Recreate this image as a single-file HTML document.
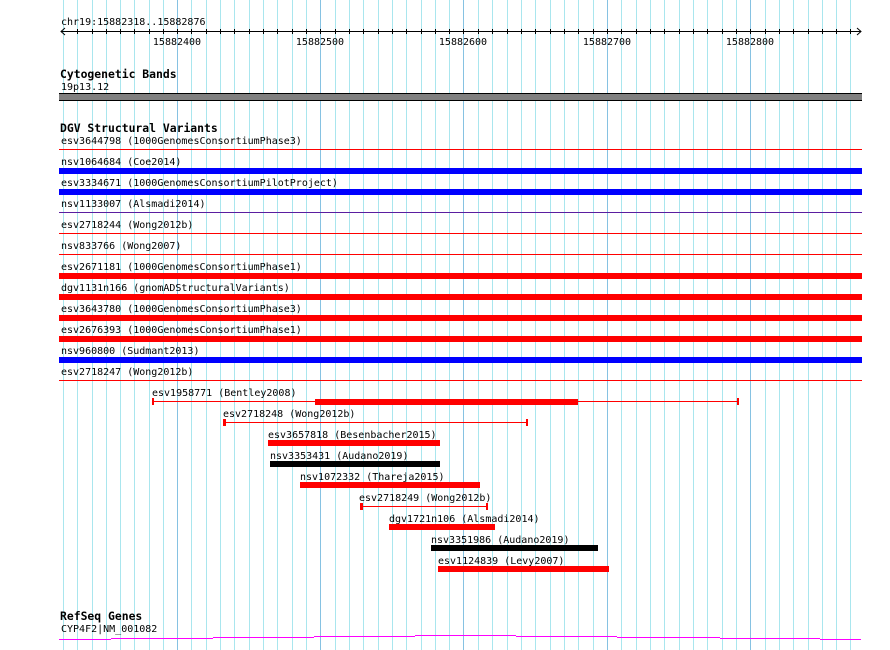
<!DOCTYPE html>
<html><head><meta charset="utf-8"><style>
html,body{margin:0;padding:0;background:#fff;}
svg{display:block;}
text{font-family:"DejaVu Sans Mono","Liberation Mono",monospace;font-size:10px;fill:#000;}
.b{font-family:"DejaVu Sans Mono","Liberation Mono",monospace;font-weight:bold;font-size:11.4px;}
</style></head><body>
<svg width="890" height="650" viewBox="0 0 890 650" xmlns="http://www.w3.org/2000/svg" shape-rendering="crispEdges">
<rect width="890" height="650" fill="#fff"/>
<g id="grid" stroke="#a9e6ee" stroke-width="1">
<line x1="63.5" y1="0" x2="63.5" y2="650"/><line x1="77.5" y1="0" x2="77.5" y2="650"/><line x1="92.5" y1="0" x2="92.5" y2="650"/><line x1="106.5" y1="0" x2="106.5" y2="650"/><line x1="120.5" y1="0" x2="120.5" y2="650"/><line x1="134.5" y1="0" x2="134.5" y2="650"/><line x1="149.5" y1="0" x2="149.5" y2="650"/><line x1="163.5" y1="0" x2="163.5" y2="650"/>
<line x1="191.5" y1="0" x2="191.5" y2="650"/><line x1="206.5" y1="0" x2="206.5" y2="650"/><line x1="220.5" y1="0" x2="220.5" y2="650"/><line x1="234.5" y1="0" x2="234.5" y2="650"/><line x1="249.5" y1="0" x2="249.5" y2="650"/><line x1="263.5" y1="0" x2="263.5" y2="650"/><line x1="277.5" y1="0" x2="277.5" y2="650"/><line x1="292.5" y1="0" x2="292.5" y2="650"/><line x1="306.5" y1="0" x2="306.5" y2="650"/>
<line x1="335.5" y1="0" x2="335.5" y2="650"/><line x1="349.5" y1="0" x2="349.5" y2="650"/><line x1="363.5" y1="0" x2="363.5" y2="650"/><line x1="378.5" y1="0" x2="378.5" y2="650"/><line x1="392.5" y1="0" x2="392.5" y2="650"/><line x1="406.5" y1="0" x2="406.5" y2="650"/><line x1="421.5" y1="0" x2="421.5" y2="650"/><line x1="435.5" y1="0" x2="435.5" y2="650"/><line x1="449.5" y1="0" x2="449.5" y2="650"/>
<line x1="478.5" y1="0" x2="478.5" y2="650"/><line x1="492.5" y1="0" x2="492.5" y2="650"/><line x1="507.5" y1="0" x2="507.5" y2="650"/><line x1="521.5" y1="0" x2="521.5" y2="650"/><line x1="535.5" y1="0" x2="535.5" y2="650"/><line x1="550.5" y1="0" x2="550.5" y2="650"/><line x1="564.5" y1="0" x2="564.5" y2="650"/><line x1="578.5" y1="0" x2="578.5" y2="650"/><line x1="593.5" y1="0" x2="593.5" y2="650"/>
<line x1="621.5" y1="0" x2="621.5" y2="650"/><line x1="636.5" y1="0" x2="636.5" y2="650"/><line x1="650.5" y1="0" x2="650.5" y2="650"/><line x1="664.5" y1="0" x2="664.5" y2="650"/><line x1="679.5" y1="0" x2="679.5" y2="650"/><line x1="693.5" y1="0" x2="693.5" y2="650"/><line x1="707.5" y1="0" x2="707.5" y2="650"/><line x1="722.5" y1="0" x2="722.5" y2="650"/><line x1="736.5" y1="0" x2="736.5" y2="650"/>
<line x1="765.5" y1="0" x2="765.5" y2="650"/><line x1="779.5" y1="0" x2="779.5" y2="650"/><line x1="793.5" y1="0" x2="793.5" y2="650"/><line x1="808.5" y1="0" x2="808.5" y2="650"/><line x1="822.5" y1="0" x2="822.5" y2="650"/><line x1="836.5" y1="0" x2="836.5" y2="650"/><line x1="850.5" y1="0" x2="850.5" y2="650"/>
</g>
<g stroke="#86c2e2">
<line x1="177.5" y1="0" x2="177.5" y2="650"/><line x1="320.5" y1="0" x2="320.5" y2="650"/><line x1="463.5" y1="0" x2="463.5" y2="650"/><line x1="607.5" y1="0" x2="607.5" y2="650"/><line x1="750.5" y1="0" x2="750.5" y2="650"/>
</g>

<!-- ruler -->
<text x="61" y="25">chr19:15882318..15882876</text>
<line x1="61" y1="31.5" x2="861" y2="31.5" stroke="#000"/>
<polyline points="65,28 61,31.5 65,35" fill="none" stroke="#000" shape-rendering="auto"/>
<polyline points="857,28 861,31.5 857,35" fill="none" stroke="#000" shape-rendering="auto"/>
<g stroke="#000">
<line x1="77.5" y1="29" x2="77.5" y2="34"/><line x1="92.5" y1="29" x2="92.5" y2="34"/><line x1="106.5" y1="29" x2="106.5" y2="34"/><line x1="120.5" y1="29" x2="120.5" y2="34"/><line x1="134.5" y1="29" x2="134.5" y2="34"/><line x1="149.5" y1="29" x2="149.5" y2="34"/><line x1="163.5" y1="29" x2="163.5" y2="34"/><line x1="177.5" y1="29" x2="177.5" y2="34"/>
<line x1="191.5" y1="29" x2="191.5" y2="34"/><line x1="206.5" y1="29" x2="206.5" y2="34"/><line x1="220.5" y1="29" x2="220.5" y2="34"/><line x1="234.5" y1="29" x2="234.5" y2="34"/><line x1="249.5" y1="29" x2="249.5" y2="34"/><line x1="263.5" y1="29" x2="263.5" y2="34"/><line x1="277.5" y1="29" x2="277.5" y2="34"/><line x1="292.5" y1="29" x2="292.5" y2="34"/><line x1="306.5" y1="29" x2="306.5" y2="34"/><line x1="320.5" y1="29" x2="320.5" y2="34"/>
<line x1="335.5" y1="29" x2="335.5" y2="34"/><line x1="349.5" y1="29" x2="349.5" y2="34"/><line x1="363.5" y1="29" x2="363.5" y2="34"/><line x1="378.5" y1="29" x2="378.5" y2="34"/><line x1="392.5" y1="29" x2="392.5" y2="34"/><line x1="406.5" y1="29" x2="406.5" y2="34"/><line x1="421.5" y1="29" x2="421.5" y2="34"/><line x1="435.5" y1="29" x2="435.5" y2="34"/><line x1="449.5" y1="29" x2="449.5" y2="34"/><line x1="463.5" y1="29" x2="463.5" y2="34"/>
<line x1="478.5" y1="29" x2="478.5" y2="34"/><line x1="492.5" y1="29" x2="492.5" y2="34"/><line x1="507.5" y1="29" x2="507.5" y2="34"/><line x1="521.5" y1="29" x2="521.5" y2="34"/><line x1="535.5" y1="29" x2="535.5" y2="34"/><line x1="550.5" y1="29" x2="550.5" y2="34"/><line x1="564.5" y1="29" x2="564.5" y2="34"/><line x1="578.5" y1="29" x2="578.5" y2="34"/><line x1="593.5" y1="29" x2="593.5" y2="34"/><line x1="607.5" y1="29" x2="607.5" y2="34"/>
<line x1="621.5" y1="29" x2="621.5" y2="34"/><line x1="636.5" y1="29" x2="636.5" y2="34"/><line x1="650.5" y1="29" x2="650.5" y2="34"/><line x1="664.5" y1="29" x2="664.5" y2="34"/><line x1="679.5" y1="29" x2="679.5" y2="34"/><line x1="693.5" y1="29" x2="693.5" y2="34"/><line x1="707.5" y1="29" x2="707.5" y2="34"/><line x1="722.5" y1="29" x2="722.5" y2="34"/><line x1="736.5" y1="29" x2="736.5" y2="34"/><line x1="750.5" y1="29" x2="750.5" y2="34"/>
<line x1="765.5" y1="29" x2="765.5" y2="34"/><line x1="779.5" y1="29" x2="779.5" y2="34"/><line x1="793.5" y1="29" x2="793.5" y2="34"/><line x1="808.5" y1="29" x2="808.5" y2="34"/><line x1="822.5" y1="29" x2="822.5" y2="34"/><line x1="836.5" y1="29" x2="836.5" y2="34"/><line x1="850.5" y1="29" x2="850.5" y2="34"/>
</g>
<g text-anchor="middle">
<text x="177" y="45">15882400</text><text x="320" y="45">15882500</text><text x="463" y="45">15882600</text><text x="607" y="45">15882700</text><text x="750" y="45">15882800</text>
</g>

<!-- cytobands -->
<text class="b" x="60" y="78">Cytogenetic Bands</text>
<text x="61" y="90">19p13.12</text>
<rect x="59" y="93" width="803" height="8" fill="#000"/>
<rect x="59" y="94" width="803" height="6" fill="#808080"/>

<!-- DGV -->
<text class="b" x="60" y="132">DGV Structural Variants</text>
<text x="61" y="144">esv3644798 (1000GenomesConsortiumPhase3)</text>
<rect x="59" y="149" width="803" height="1" fill="#f00"/>
<text x="61" y="165">nsv1064684 (Coe2014)</text>
<rect x="59" y="168" width="803" height="6" fill="#00f"/>
<text x="61" y="186">esv3334671 (1000GenomesConsortiumPilotProject)</text>
<rect x="59" y="189" width="803" height="6" fill="#00f"/>
<text x="61" y="207">nsv1133007 (Alsmadi2014)</text>
<rect x="59" y="212" width="803" height="1" fill="#5a1ea0"/>
<text x="61" y="228">esv2718244 (Wong2012b)</text>
<rect x="59" y="233" width="803" height="1" fill="#f00"/>
<text x="61" y="249">nsv833766 (Wong2007)</text>
<rect x="59" y="254" width="803" height="1" fill="#f00"/>
<text x="61" y="270">esv2671181 (1000GenomesConsortiumPhase1)</text>
<rect x="59" y="273" width="803" height="6" fill="#f00"/>
<text x="61" y="291">dgv1131n166 (gnomADStructuralVariants)</text>
<rect x="59" y="294" width="803" height="6" fill="#f00"/>
<text x="61" y="312">esv3643780 (1000GenomesConsortiumPhase3)</text>
<rect x="59" y="315" width="803" height="6" fill="#f00"/>
<text x="61" y="333">esv2676393 (1000GenomesConsortiumPhase1)</text>
<rect x="59" y="336" width="803" height="6" fill="#f00"/>
<text x="61" y="354">nsv960800 (Sudmant2013)</text>
<rect x="59" y="357" width="803" height="6" fill="#00f"/>
<text x="61" y="375">esv2718247 (Wong2012b)</text>
<rect x="59" y="380" width="803" height="1" fill="#f00"/>

<text x="152" y="396">esv1958771 (Bentley2008)</text>
<rect x="152" y="401" width="587" height="1" fill="#f00"/>
<rect x="152" y="398" width="2" height="7" fill="#f00"/>
<rect x="737" y="398" width="2" height="7" fill="#f00"/>
<rect x="315" y="399" width="263" height="6" fill="#f00"/>

<text x="223" y="417">esv2718248 (Wong2012b)</text>
<rect x="223" y="422" width="305" height="1" fill="#f00"/>
<rect x="223" y="419" width="3" height="7" fill="#f00"/>
<rect x="526" y="419" width="2" height="7" fill="#f00"/>

<text x="268" y="438">esv3657818 (Besenbacher2015)</text>
<rect x="268" y="440" width="172" height="6" fill="#f00"/>
<text x="270" y="459">nsv3353431 (Audano2019)</text>
<rect x="270" y="461" width="170" height="6" fill="#000"/>
<text x="300" y="480">nsv1072332 (Thareja2015)</text>
<rect x="300" y="482" width="180" height="6" fill="#f00"/>

<text x="359" y="501">esv2718249 (Wong2012b)</text>
<rect x="360" y="506" width="128" height="1" fill="#f00"/>
<rect x="360" y="503" width="3" height="7" fill="#f00"/>
<rect x="486" y="503" width="2" height="7" fill="#f00"/>

<text x="389" y="522">dgv1721n106 (Alsmadi2014)</text>
<rect x="389" y="524" width="106" height="6" fill="#f00"/>
<text x="431" y="543">nsv3351986 (Audano2019)</text>
<rect x="431" y="545" width="167" height="6" fill="#000"/>
<text x="438" y="564">esv1124839 (Levy2007)</text>
<rect x="438" y="566" width="171" height="6" fill="#f00"/>

<!-- RefSeq -->
<text class="b" x="60" y="620">RefSeq Genes</text>
<text x="61" y="632">CYP4F2|NM_001082</text>
<g fill="#f0f">
<rect x="59" y="639" width="52" height="1"/>
<rect x="111" y="638" width="102" height="1"/>
<rect x="213" y="637" width="101" height="1"/>
<rect x="314" y="636" width="101" height="1"/>
<rect x="415" y="635" width="101" height="1"/>
<rect x="516" y="636" width="101" height="1"/>
<rect x="617" y="637" width="103" height="1"/>
<rect x="720" y="638" width="100" height="1"/>
<rect x="820" y="639" width="41" height="1"/>
</g>
</svg>
</body></html>
